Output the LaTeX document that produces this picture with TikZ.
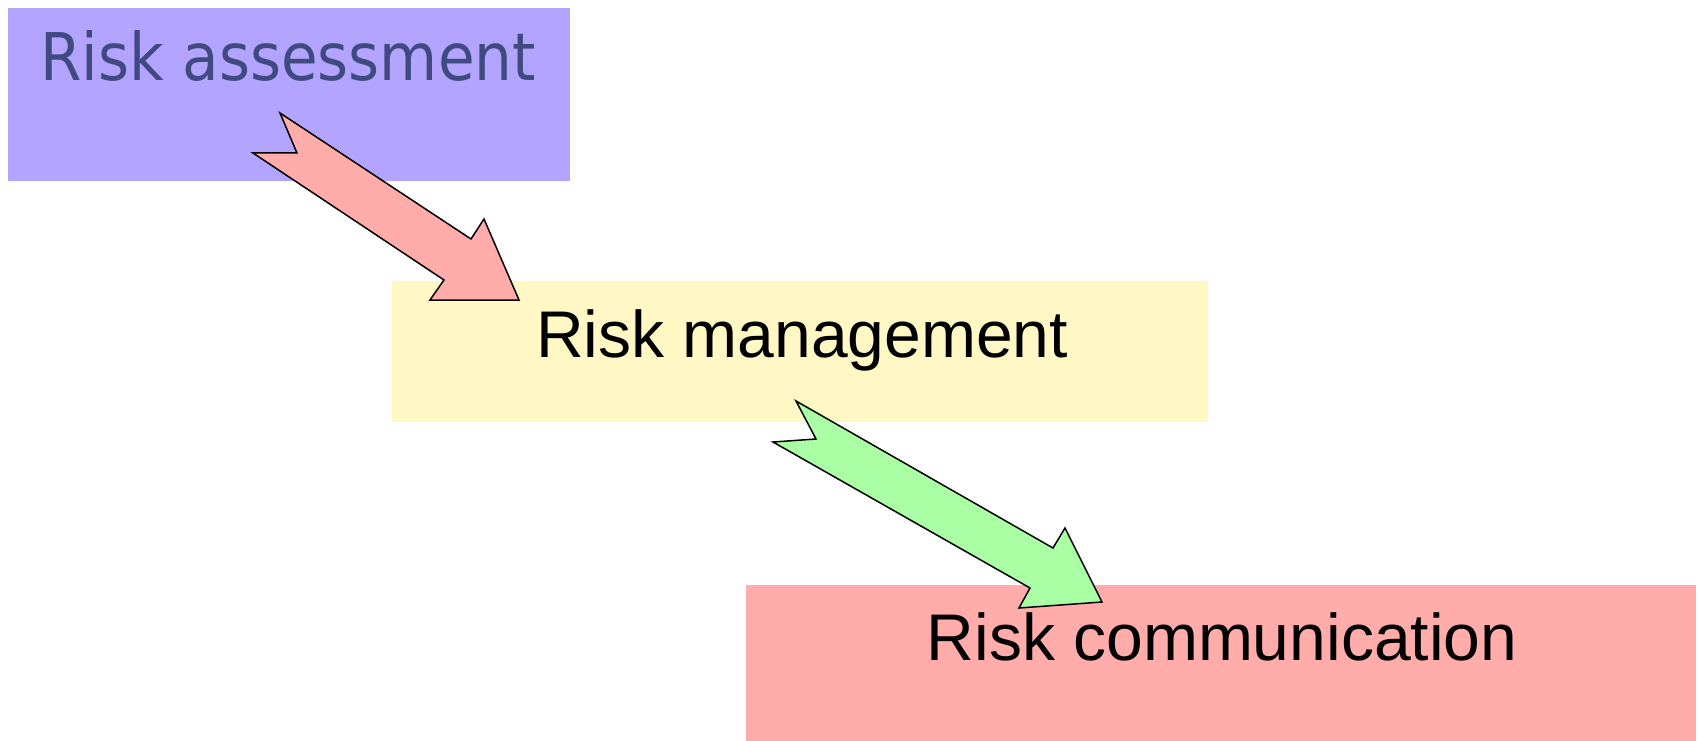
\documentclass[tikz,border=0pt]{standalone}
\usepackage{fontspec}
\setmainfont{Liberation Sans}
\newfontfamily\assessfont[FakeStretch=0.906]{DejaVu Sans}
\definecolor{boxblue}{RGB}{178,164,255}
\definecolor{boxyellow}{RGB}{255,248,196}
\definecolor{boxpink}{RGB}{255,172,170}
\definecolor{arrowred}{RGB}{255,172,170}
\definecolor{arrowgreen}{RGB}{170,255,165}
\definecolor{assesstext}{RGB}{65,74,128}
\begin{document}
\begin{tikzpicture}[x=1pt,y=-1pt,
  box/.style={draw=none, inner sep=0pt, outer sep=0pt, anchor=north west},
  label/.style={anchor=base, inner sep=0pt, font=\fontsize{66}{70}\selectfont},
  blockarrow/.style={draw=black, line width=1.5pt, line join=miter}]
\useasboundingbox (0,0) rectangle (1700,741);
% boxes
\node[box, fill=boxblue, minimum width=562pt, minimum height=173pt] (assess) at (8,8) {};
\node[box, fill=boxyellow, minimum width=816pt, minimum height=141pt] (manage) at (392,281) {};
\node[box, fill=boxpink, minimum width=950pt, minimum height=156pt] (commun) at (746,585) {};
% texts
\node[label, text=assesstext, font={\assessfont\fontsize{65.8}{70}\selectfont}] (assesstxt) at (288,81) {Risk assessment};
\node[label] (managetxt) at (802,357) {Risk management};
\node[label] (communtxt) at (1222,660) {Risk communication};
% block arrows
\draw[blockarrow, fill=arrowred] (280,113) -- (471,239) -- (484,219) -- (519,300) -- (430,300) -- (444,280) -- (253,153) -- (297,153) -- cycle;
\draw[blockarrow, fill=arrowgreen] (796,401) -- (1053,548) -- (1065,528) -- (1102,602) -- (1019,608) -- (1030,588) -- (773,442) -- (816,439) -- cycle;
\end{tikzpicture}
\end{document}
